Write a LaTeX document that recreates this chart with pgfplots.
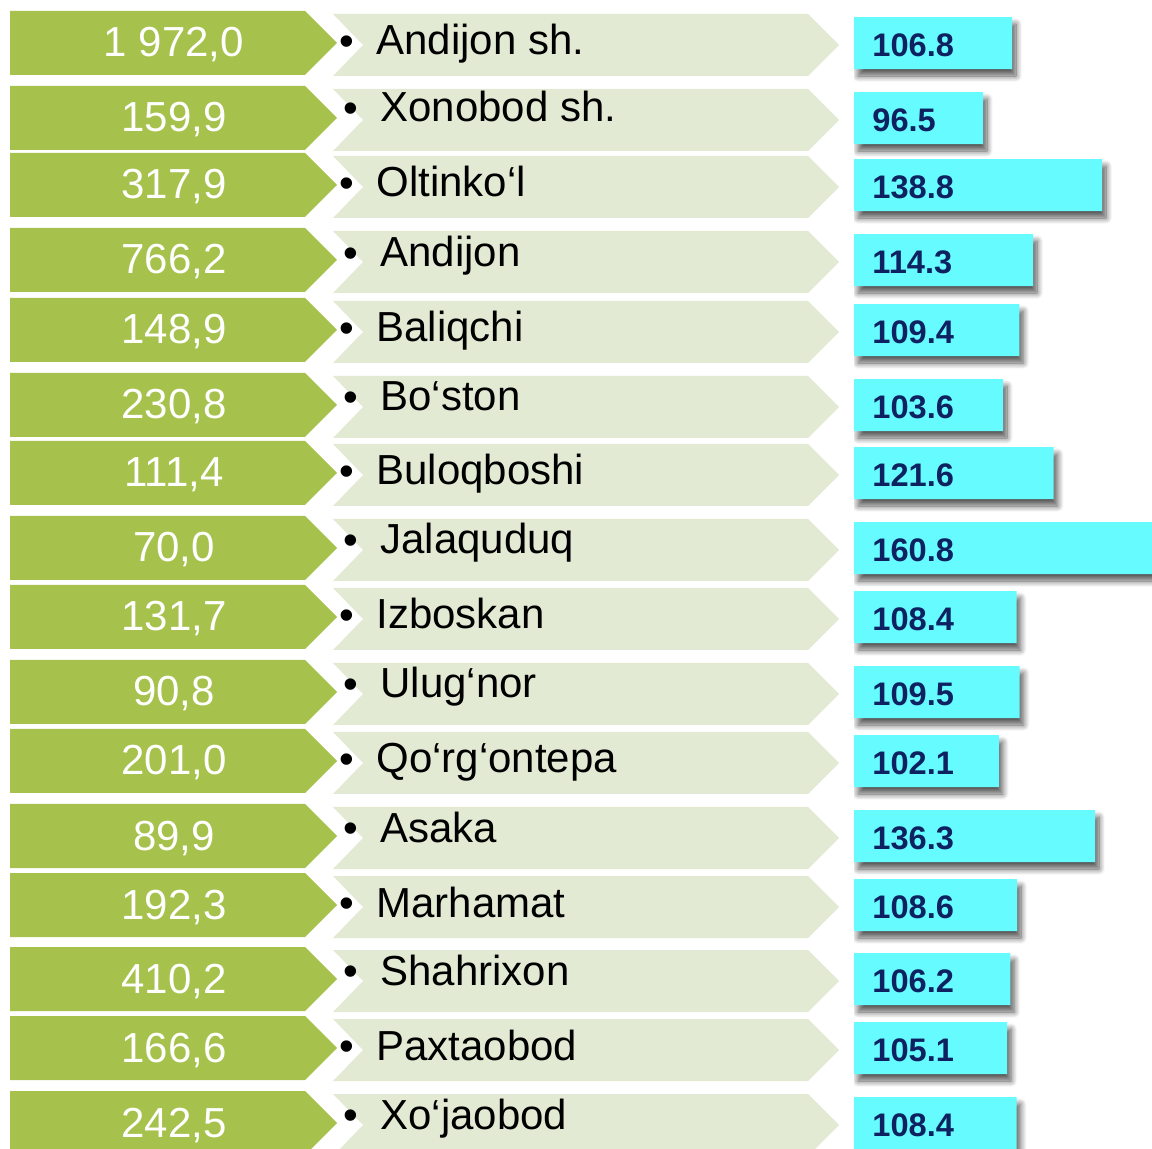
\documentclass[border=0pt]{standalone}
\usepackage{pgfplots}
\pgfplotsset{compat=1.18}
\usepackage{pgfplotstable}
\usepackage{fontspec}
\setmainfont{Liberation Sans}
\usetikzlibrary{shadows.blur}
\definecolor{grn}{RGB}{166,194,76}
\definecolor{lgrn}{RGB}{227,234,212}
\definecolor{cyanbar}{RGB}{102,252,255}
\definecolor{navy}{RGB}{14,33,96}

\pgfplotstableread{
y v
43 106.8
118 96.5
185 138.8
260 114.3
330 109.4
405 103.6
473 121.6
548 160.8
617 108.4
692 109.5
761 102.1
836 136.3
905 108.6
979 106.2
1048 105.1
1123 108.4
}\bars

\begin{document}
\begin{tikzpicture}
\path[use as bounding box] (0pt,0pt) rectangle (576pt,-574.5pt);
\begin{scope}[x=0.5pt,y=-0.5pt]
\clip (0,0) rectangle (1152,1149);
\foreach \c/\val/\name/\dx/\dy in {
 43/{1 972,0}/{Andijon sh.}/0/0,
 118/{159,9}/{Xonobod sh.}/4/-8,
 185/{317,9}/{Oltinko‘l}/0/0,
 260/{766,2}/{Andijon}/4/-5,
 330/{148,9}/{Baliqchi}/0/0,
 405/{230,8}/{Bo‘ston}/4/-6,
 473/{111,4}/{Buloqboshi}/0/0,
 548/{70,0}/{Jalaquduq}/4/-6,
 617/{131,7}/{Izboskan}/0/0,
 692/{90,8}/{Ulug‘nor}/4/-6,
 761/{201,0}/{Qo‘rg‘ontepa}/0/0,
 836/{89,9}/{Asaka}/4/-6,
 905/{192,3}/{Marhamat}/0/0,
 979/{410,2}/{Shahrixon}/4/-6,
 1048/{166,6}/{Paxtaobod}/0/0,
 1123/{242,5}/{Xo‘jaobod}/4/-6}{
  \fill[grn] (10,\c-32) -- (305,\c-32) -- (337,\c) -- (305,\c+32) -- (10,\c+32) -- cycle;
  \fill[lgrn] (333,\c-29) -- (808,\c-29) -- (839,\c+2) -- (808,\c+33) -- (333,\c+33) -- (363,\c+2) -- cycle;
  \node[white, anchor=base, inner sep=0pt, font=\fontsize{21}{25}\selectfont] at (174,\c+14) {\val};
  \node[black, inner sep=0pt, font=\fontsize{21}{25}\selectfont] at (347+\dx,\c+3+\dy) {•};
  \node[black, anchor=base west, inner sep=0pt, font=\fontsize{21}{25}\selectfont] at (376+\dx,\c+12+\dy) {\name};
}
\end{scope}
\begin{axis}[at={(427pt,-574.5pt)}, anchor=south west, scale only axis,
  width=149pt, height=574.5pt,
  xmin=50.7, xmax=156.5, ymin=0, ymax=1149, y dir=reverse,
  hide axis, xbar, bar width=26pt, clip=true]
\addplot[fill=cyanbar, draw=none,
  blur shadow={shadow xshift=2pt, shadow yshift=-3.5pt, shadow blur radius=3pt, shadow blur steps=10, shadow opacity=65}]
  table[x=v, y=y]{\bars};
\addplot[sharp plot, draw=none, mark=none, nodes near coords, point meta=explicit symbolic,
  every node near coord/.style={anchor=west, inner sep=0pt, yshift=-1pt, text=navy, font=\bfseries\fontsize{16.3}{19}\selectfont}]
  table[x expr=57.1, y=y, meta=v]{\bars};
\end{axis}
\end{tikzpicture}
\end{document}
